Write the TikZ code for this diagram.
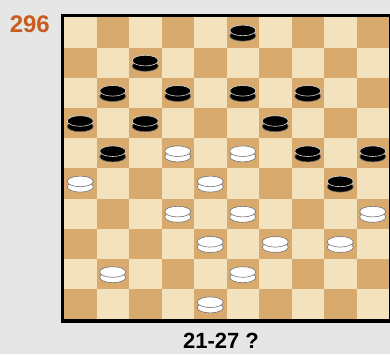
\documentclass[tikz,border=0pt]{standalone}
\usepackage{fontspec}
\setmainfont{Liberation Sans}
\usepackage{tikz}
\usetikzlibrary{positioning, shapes.geometric, shadows}

\definecolor{lightwood}{RGB}{242,226,190}
\definecolor{darkwood}{RGB}{216,170,110}
\definecolor{bggray}{RGB}{230,230,230}
\definecolor{numorange}{RGB}{200,92,30}

\begin{document}
\begin{tikzpicture}[x=1pt, y=-1pt]
				\tikzstyle{light square}=[fill=lightwood]
				\tikzstyle{dark square}=[fill=darkwood]
				\tikzstyle{piece}=[ellipse, minimum width=26pt, minimum height=10.6pt, inner sep=0pt, line width=0.6pt]
				\tikzstyle{black piece}=[piece, fill=black, draw=white!85!black,
					copy shadow={shadow xshift=0pt, shadow yshift=-5.4pt, fill=black, draw=black!60, line width=0.6pt}]
				\tikzstyle{white piece}=[piece, fill=white, draw=black!55,
					copy shadow={shadow xshift=0pt, shadow yshift=-5.4pt, fill=white, draw=black!55, line width=0.6pt}]
				\tikzstyle{annot}=[font=\fontsize{24}{24}\selectfont\bfseries, inner sep=0pt]
				
				% Background
				\useasboundingbox (0,0) rectangle (390,354);
				\fill[bggray] (0,0) rectangle (390,354);
				
				% Board
				\fill[light square] (64,17.3) rectangle (389,319.3);
				\foreach \r in {0,...,9}
				\foreach \k in {0,...,4} {
					\pgfmathtruncatemacro\c{2*\k+1-mod(\r,2)}
					\fill[dark square] ({64+\c*32.5},{17.3+\r*30.2}) rectangle +(32.5,30.2);
				}
				\draw[line width=3.5pt] (62.3,15.5) rectangle (391,321.2);
				
				% Black pieces
				\foreach \r/\c in {0/5,1/2,2/1,2/3,2/5,2/7,3/0,3/2,3/6,4/1,4/7,4/9,5/8}
				\node[black piece] (B-\r-\c) at ({64+(\c+0.5)*32.5},{17.3+(\r+0.5)*30.2-2}) {};
				
				% White pieces
				\foreach \r/\c in {4/3,4/5,5/0,5/4,6/3,6/5,6/9,7/4,7/6,7/8,8/1,8/5,9/4}
				\node[white piece] (W-\r-\c) at ({64+(\c+0.5)*32.5},{17.3+(\r+0.5)*30.2-2}) {};
				
				% Annotations
				\node[annot, text=numorange] (num) at (29.8,24) {296};
				\node[annot, font=\fontsize{22}{22}\selectfont\bfseries] (move) at (221,340.5) {21-27 ?};
			\end{tikzpicture}
\end{document}
